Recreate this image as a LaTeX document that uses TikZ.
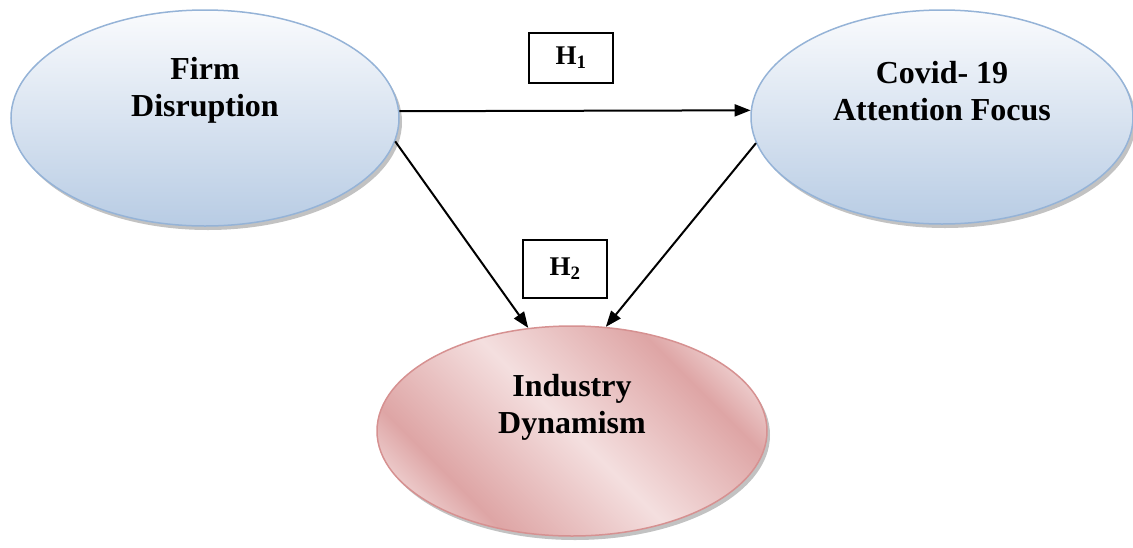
\documentclass[tikz,border=0pt]{standalone}
\usepackage{fontspec}
\setmainfont{Liberation Serif}
\usetikzlibrary{shapes.geometric,shadows,arrows.meta}
\definecolor{blueL}{RGB}{250,251,253}
\definecolor{blueM}{RGB}{222,231,242}
\definecolor{blueD}{RGB}{184,204,228}
\definecolor{blueB}{RGB}{149,179,215}
\definecolor{pkD}{RGB}{222,165,165}
\definecolor{pkL}{RGB}{244,223,223}
\definecolor{pkB}{RGB}{214,145,145}
\pgfdeclarehorizontalshading{pinkband}{100bp}{color(0bp)=(pkL); color(20bp)=(pkL); color(30bp)=(pkD); color(50bp)=(pkL); color(70bp)=(pkD); color(80bp)=(pkL); color(100bp)=(pkL)}
\begin{document}
\begin{tikzpicture}[x=1pt,y=-1pt,
  shadowed/.style={drop shadow={shadow xshift=3pt,shadow yshift=-4pt,fill=black!40,opacity=0.6}},
  blueell/.style={ellipse,draw=blueB,line width=1.5pt,top color=blueL,middle color=blueM,bottom color=blueD,inner sep=0pt,shadowed},
  pinkell/.style={ellipse,draw=pkB,line width=1.5pt,shading=pinkband,shading angle=45,inner sep=0pt,shadowed},
  lbl/.style={font=\fontsize{32pt}{37pt}\selectfont\bfseries,align=center,inner sep=0pt},
  hbox/.style={draw=black,line width=1.5pt,minimum width=84pt,inner sep=0pt,font=\fontsize{27pt}{30pt}\selectfont\bfseries},
  arr/.style={line width=2pt,-{Triangle[length=16pt,width=12pt]}}]
\useasboundingbox (0,0) rectangle (1133,547);
\node[blueell,minimum width=388pt,minimum height=216pt] (fd) at (205,118) {};
\node[blueell,minimum width=382pt,minimum height=214pt] (cv) at (942,117) {};
\node[pinkell,minimum width=390pt,minimum height=210pt] (id) at (572,431) {};
\node[lbl] (fdt) at (205,90) {Firm\\Disruption};
\node[lbl] (cvt) at (942,91) {Covid- 19\\Attention Focus};
\node[lbl] (idt) at (572,407) {Industry\\Dynamism};
\node[hbox,minimum height=50pt] (h1) at (571,58) {H\textsubscript{1}};
\node[hbox,minimum height=58pt] (h2) at (565,269) {H\textsubscript{2}};
\draw[arr] (fd.2) -- (cv.178);
\draw[arr] (fd.-7) -- (id.113);
\draw[arr] (cv.188) -- (id.72);
\end{tikzpicture}
\end{document}
